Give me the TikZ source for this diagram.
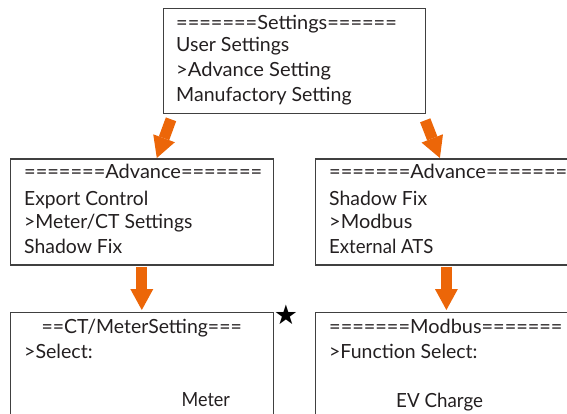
\documentclass[tikz,border=0pt]{standalone}
\usepackage{graphicx}
\usepackage{fontspec}
\setmainfont{Lato}
\newfontfamily\symfont{DejaVu Sans}
\usetikzlibrary{arrows.meta,calc}
\definecolor{arr}{RGB}{236,102,8}
\definecolor{txt}{RGB}{35,31,32}
\definecolor{frame}{RGB}{64,64,64}
\newcommand{\fitw}[2]{\resizebox{#1}{\height}{#2}}
\begin{document}
\begin{tikzpicture}[x=1pt,y=-1pt,
  scrbox/.style={draw=frame,line width=1.2pt,anchor=north west,inner sep=0pt,outer sep=0pt},
  txtline/.style={anchor=base west,inner sep=0pt,text=txt,font=\fontsize{19.5}{22}\selectfont},
  flow/.style={draw=arr,line width=11pt,-{Triangle[width=23pt,length=21pt,line width=0pt]}}]
\useasboundingbox (0,0) rectangle (567,414);
\clip (0,0) rectangle (567,414);
% screens
\node[scrbox,minimum width=262.2pt,minimum height=105pt] (set) at (163.5,8.3) {};
\node[scrbox,minimum width=263pt,minimum height=106pt] (advL) at (10.8,159) {};
\node[scrbox,minimum width=300pt,minimum height=106pt] (advR) at (315.4,159) {};
\node[scrbox,minimum width=263pt,minimum height=130pt] (ct) at (10.8,312.5) {};
\node[scrbox,minimum width=300pt,minimum height=130pt] (mod) at (315.4,312.5) {};
% texts: settings
\node[txtline] (s1) at (176,30) {\fitw{220.6pt}{=======Settings======}};
\node[txtline] (s2) at (176,52) {\fitw{113.2pt}{User Settings}};
\node[txtline] (s3) at (176,77) {\fitw{154.8pt}{>Advance Setting}};
\node[txtline] (s4) at (176,101.3) {\fitw{175.4pt}{Manufactory Setting}};
% advance left
\node[txtline] (l1) at (24,178.7) {\fitw{238pt}{=======Advance=======}};
\node[txtline] (l2) at (24,205.3) {\fitw{124.1pt}{Export Control}};
\node[txtline] (l3) at (24,228.7) {\fitw{168.2pt}{>Meter/CT Settings}};
\node[txtline] (l4) at (24,253) {\fitw{98pt}{Shadow Fix}};
% advance right
\node[txtline] (r1) at (329,178.7) {\fitw{238pt}{=======Advance=======}};
\node[txtline] (r2) at (329,205.3) {\fitw{98pt}{Shadow Fix}};
\node[txtline] (r3) at (329,228.7) {\fitw{83.2pt}{>Modbus}};
\node[txtline] (r4) at (329,253) {\fitw{104.2pt}{External ATS}};
% ct meter
\node[txtline] (c1) at (41.5,333.7) {\fitw{200pt}{==CT/MeterSetting===}};
\node[txtline] (c2) at (24,358.7) {\fitw{68.5pt}{>Select:}};
\node[txtline] (c3) at (181.5,406.7) {\fitw{48.3pt}{Meter}};
% modbus
\node[txtline] (m1) at (329,333.7) {\fitw{233.3pt}{=======Modbus=======}};
\node[txtline] (m2) at (329,358.7) {\fitw{148.3pt}{>Function Select:}};
\node[txtline] (m3) at (396,407) {\fitw{86.8pt}{EV Charge}};
% star
\node[inner sep=0pt,font=\symfont\fontsize{27}{30}\selectfont] (star) at (286,314.5) {★};
% arrows
\coordinate (a1s) at ($(set.south west)+(7.5,6)$);
\coordinate (a1e) at ($(advL.north west)+(146,-1)$);
\coordinate (a2s) at ($(set.south east)+(-0.5,7)$);
\coordinate (a2e) at ($(advR.north west)+(124.5,-1)$);
\coordinate (a3s) at ($(advL.south west)+(131,2)$);
\coordinate (a3e) at ($(ct.north west)+(131,-2.5)$);
\coordinate (a4s) at ($(advR.south west)+(131,2)$);
\coordinate (a4e) at ($(mod.north west)+(131,-2.5)$);
\draw[flow] (a1s) -- (a1e);
\draw[flow] (a2s) -- (a2e);
\draw[flow] (a3s) -- (a3e);
\draw[flow] (a4s) -- (a4e);
\end{tikzpicture}
\end{document}
